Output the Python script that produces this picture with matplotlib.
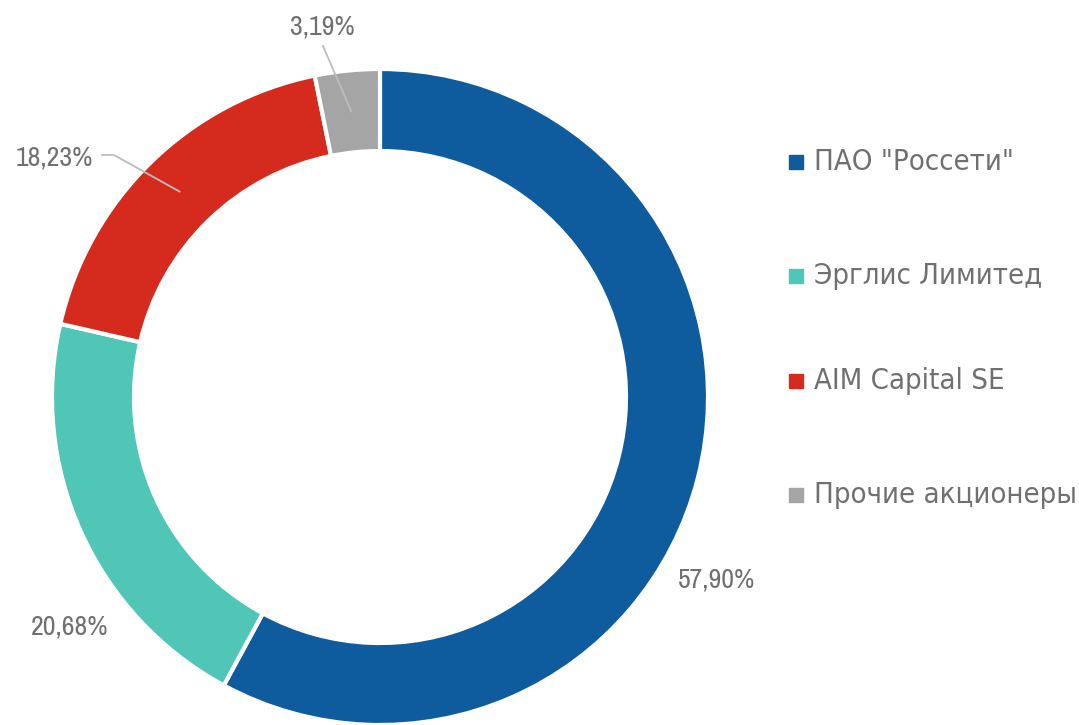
import matplotlib
matplotlib.use('Agg')
import matplotlib.pyplot as plt
from matplotlib.patches import Rectangle
import numpy as np

plt.rcParams['font.family'] = ['Archivo Narrow', 'DejaVu Sans']
plt.rcParams['font.stretch'] = 'condensed'

names = ['ПАО "Россети"', 'Эрглис Лимитед', 'AIM Capital SE', 'Прочие акционеры']
shares = [57.90, 20.68, 18.23, 3.19]
colors = ['#0E5C9E', '#50C7B6', '#D52B1E', '#A5A5A5']
label_txt = ['57,90%', '20,68%', '18,23%', '3,19%']

W, H = 1079, 725
fig = plt.figure(figsize=(W / 100, H / 100), dpi=100)
ax = fig.add_axes([0, 0, 1, 1])

cx, cy, R = 380, H - 397, 328
ring = 82
wedges, _ = ax.pie(shares, colors=colors, startangle=90, counterclock=False,
                   center=(cx, cy), radius=R, frame=True,
                   wedgeprops=dict(width=ring, edgecolor='white', linewidth=3))
ax.set_xlim(0, W)
ax.set_ylim(0, H)
ax.axis('off')

tc = '#707070'
fs = 20
ax.text(678, H - 580, label_txt[0], color=tc, fontsize=fs, ha='left', va='center')
ax.text(108, H - 627, label_txt[1], color=tc, fontsize=fs, ha='right', va='center')
ax.text(93, H - 158, label_txt[2], color=tc, fontsize=fs, ha='right', va='center')
ax.text(322, H - 27, label_txt[3], color=tc, fontsize=fs, ha='center', va='center')

# leader lines to the middle of the ring
ends = np.cumsum(shares) / sum(shares) * 360
starts = ends - np.array(shares) / sum(shares) * 360
mid = 90 - (starts + ends) / 2
rm = R - ring / 2
px = cx + rm * np.cos(np.radians(mid))
py = cy + rm * np.sin(np.radians(mid))
ax.plot([102, 114, px[2]], [H - 155, H - 155, py[2]], color='#BDBDBD', lw=1.3)
ax.plot([323, px[3]], [H - 46, py[3]], color='#BDBDBD', lw=1.3)

# legend (one face for latin and cyrillic alike)
rows = [162, 276, 381, 495]
for n, c, r in zip(names, colors, rows):
    ax.add_patch(Rectangle((789, H - r - 7), 14, 14, color=c))
    ax.text(814, H - r, n, color=tc, fontsize=21, family=['DejaVu Sans'],
            fontstretch='condensed', ha='left', va='center')

fig.savefig('out.png', dpi=100)
